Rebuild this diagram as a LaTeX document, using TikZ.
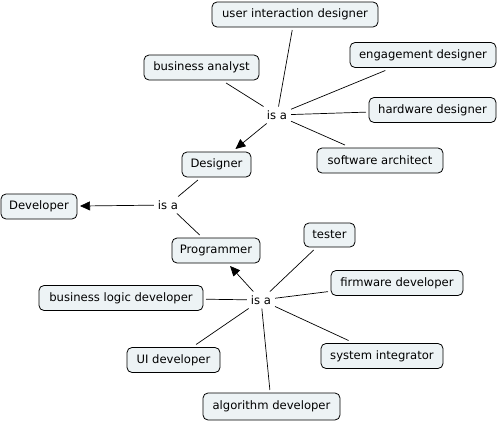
\documentclass[tikz,border=0pt]{standalone}
\usepackage{fontspec}
\setmainfont{DejaVu Sans}
\usetikzlibrary{arrows.meta}
\definecolor{boxfill}{HTML}{EDF3F5}
\tikzset{
  concept/.style={draw=black, line width=0.8pt, fill=boxfill, rounded corners=5pt,
    minimum height=25pt, inner xsep=2pt, inner ysep=0pt, outer sep=3pt,
    font=\fontsize{11.6}{13}\selectfont, text=black},
  link/.style={inner sep=3pt, outer sep=1pt, font=\fontsize{11.6}{13}\selectfont, text=black},
  conn/.style={line width=0.7pt, black},
  arr/.style={conn, -{Triangle[length=10pt,width=9pt]}},
}
\begin{document}
\begin{tikzpicture}[x=1pt,y=-1pt]
\useasboundingbox (0,0) rectangle (501,423);
\node[concept, minimum width=166pt] (uid) at (295,14.5) {user interaction designer};
\node[concept, minimum width=115pt] (ba) at (201.5,67.5) {business analyst};
\node[concept, minimum width=146pt] (eng) at (423,55) {engagement designer};
\node[concept, minimum width=127pt] (hw) at (432.5,110) {hardware designer};
\node[concept, minimum width=126pt] (sa) at (380,160.5) {software architect};
\node[concept, minimum width=69pt] (des) at (216.5,164.5) {Designer};
\node[concept, minimum width=76pt] (dev) at (39,206.5) {Developer};
\node[concept, minimum width=88pt] (prog) at (216,250.5) {Programmer};
\node[concept, minimum width=51pt, minimum height=24pt] (tester) at (329.5,235) {tester};
\node[concept, minimum width=132pt] (fw) at (397,283) {firmware developer};
\node[concept, minimum width=164pt] (bld) at (121,298) {business logic developer};
\node[concept, minimum width=93pt] (ui) at (173.5,360) {UI developer};
\node[concept, minimum width=122pt] (si) at (382,356) {system integrator};
\node[concept, minimum width=137pt, minimum height=27pt] (alg) at (271.5,406.5) {algorithm developer};

\node[link] (isa1) at (277,115) {is a};
\node[link] (isa2) at (168,205) {is a};
\node[link] (isa3) at (261,300) {is a};

\foreach \n in {uid,ba,eng,hw,sa} \draw[conn] (\n) -- (isa1);
\draw[arr] (isa1) -- (des);
\draw[conn] (des) -- (isa2);
\draw[conn] (prog) -- (isa2);
\draw[arr] (isa2) -- (dev);
\foreach \n in {tester,fw,bld,ui,si,alg} \draw[conn] (\n) -- (isa3);
\draw[arr] (isa3) -- (prog);
\end{tikzpicture}
\end{document}
